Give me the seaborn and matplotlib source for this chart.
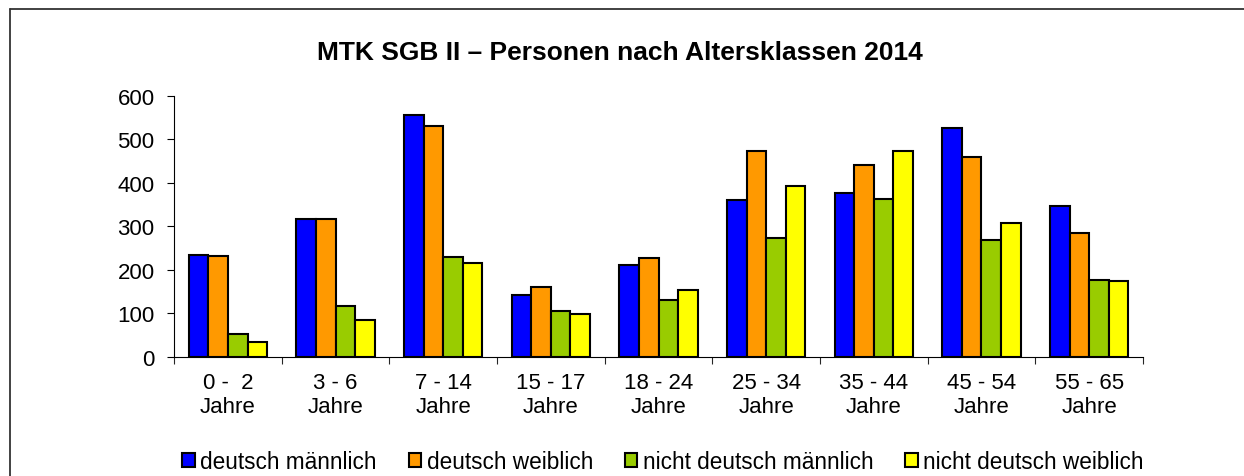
import numpy as np
import pandas as pd
import matplotlib
matplotlib.use("Agg")
import matplotlib.pyplot as plt
from matplotlib.patches import Patch
from matplotlib.lines import Line2D
import seaborn as sns

# Daten
altersklassen = ["0 -  2\nJahre", "3 - 6\nJahre", "7 - 14\nJahre", "15 - 17\nJahre",
                 "18 - 24\nJahre", "25 - 34\nJahre", "35 - 44\nJahre", "45 - 54\nJahre",
                 "55 - 65\nJahre"]
deutsch_m = [235, 318, 557, 143, 212, 361, 377, 527, 346]
deutsch_w = [231, 317, 532, 160, 228, 474, 442, 459, 285]
nicht_deutsch_m = [52, 118, 230, 105, 130, 273, 363, 270, 178]
nicht_deutsch_w = [34, 85, 215, 98, 154, 393, 474, 308, 175]
gruppen = ["deutsch männlich", "deutsch weiblich", "nicht deutsch männlich", "nicht deutsch weiblich"]
farben = ["#0000FF", "#FF9900", "#99CC00", "#FFFF00"]

df = pd.DataFrame({
    "Altersklasse": altersklassen * 4,
    "Gruppe": [g for g in gruppen for _ in altersklassen],
    "Personen": deutsch_m + deutsch_w + nicht_deutsch_m + nicht_deutsch_w,
})

sns.set_theme(style="white")
plt.rcParams["font.family"] = ["Liberation Sans", "DejaVu Sans"]
plt.rcParams["text.color"] = "black"

fig = plt.figure(figsize=(12.44, 4.77), dpi=100)
ax = fig.add_axes([0.1399, 0.2495, 0.7789, 0.5472])

sns.barplot(data=df, x="Altersklasse", y="Personen", hue="Gruppe", order=altersklassen,
            hue_order=gruppen, palette=farben, width=0.73, gap=0, edgecolor="black",
            linewidth=1.5, saturation=1, ax=ax)
ax.get_legend().remove()

ax.set_xlim(-0.5, len(altersklassen) - 0.5)
ax.set_ylim(0, 600)
ax.set_yticks(range(0, 601, 100))
ax.set_xlabel("")
ax.set_ylabel("")
ax.set_xticks(np.arange(-0.5, len(altersklassen), 1), minor=True)
ax.tick_params(axis="x", which="major", length=0, pad=11, labelsize=16, colors="black")
ax.tick_params(axis="x", which="minor", length=5, width=0.8, direction="out", bottom=True)
ax.tick_params(axis="y", length=5, width=0.8, direction="out", left=True, pad=9,
               labelsize=16, colors="black")
sns.despine(ax=ax)
for s in ["left", "bottom"]:
    ax.spines[s].set_color("black")
    ax.spines[s].set_linewidth(0.8)

fig.text(0.498, 0.889, "MTK SGB II – Personen nach Altersklassen 2014",
         ha="center", va="center", fontsize=19, fontweight="bold", color="black")

handles = [Patch(facecolor=c, edgecolor="black", linewidth=1.5) for c in farben]
fig.legend(handles, gruppen, loc="center", bbox_to_anchor=(0.533, 0.031), ncol=4,
           frameon=False, fontsize=16.3, handlelength=0.55, handleheight=0.6,
           handletextpad=0.25, columnspacing=1.4, borderaxespad=0)

# Rahmen oben und links
fig.add_artist(Line2D([10 / 1244, 1], [1 - 10 / 477, 1 - 10 / 477], transform=fig.transFigure,
                      color="#333333", linewidth=1.3))
fig.add_artist(Line2D([10 / 1244, 10 / 1244], [0, 1 - 10 / 477], transform=fig.transFigure,
                      color="#333333", linewidth=1.3))

fig.savefig("out.png", dpi=100)
